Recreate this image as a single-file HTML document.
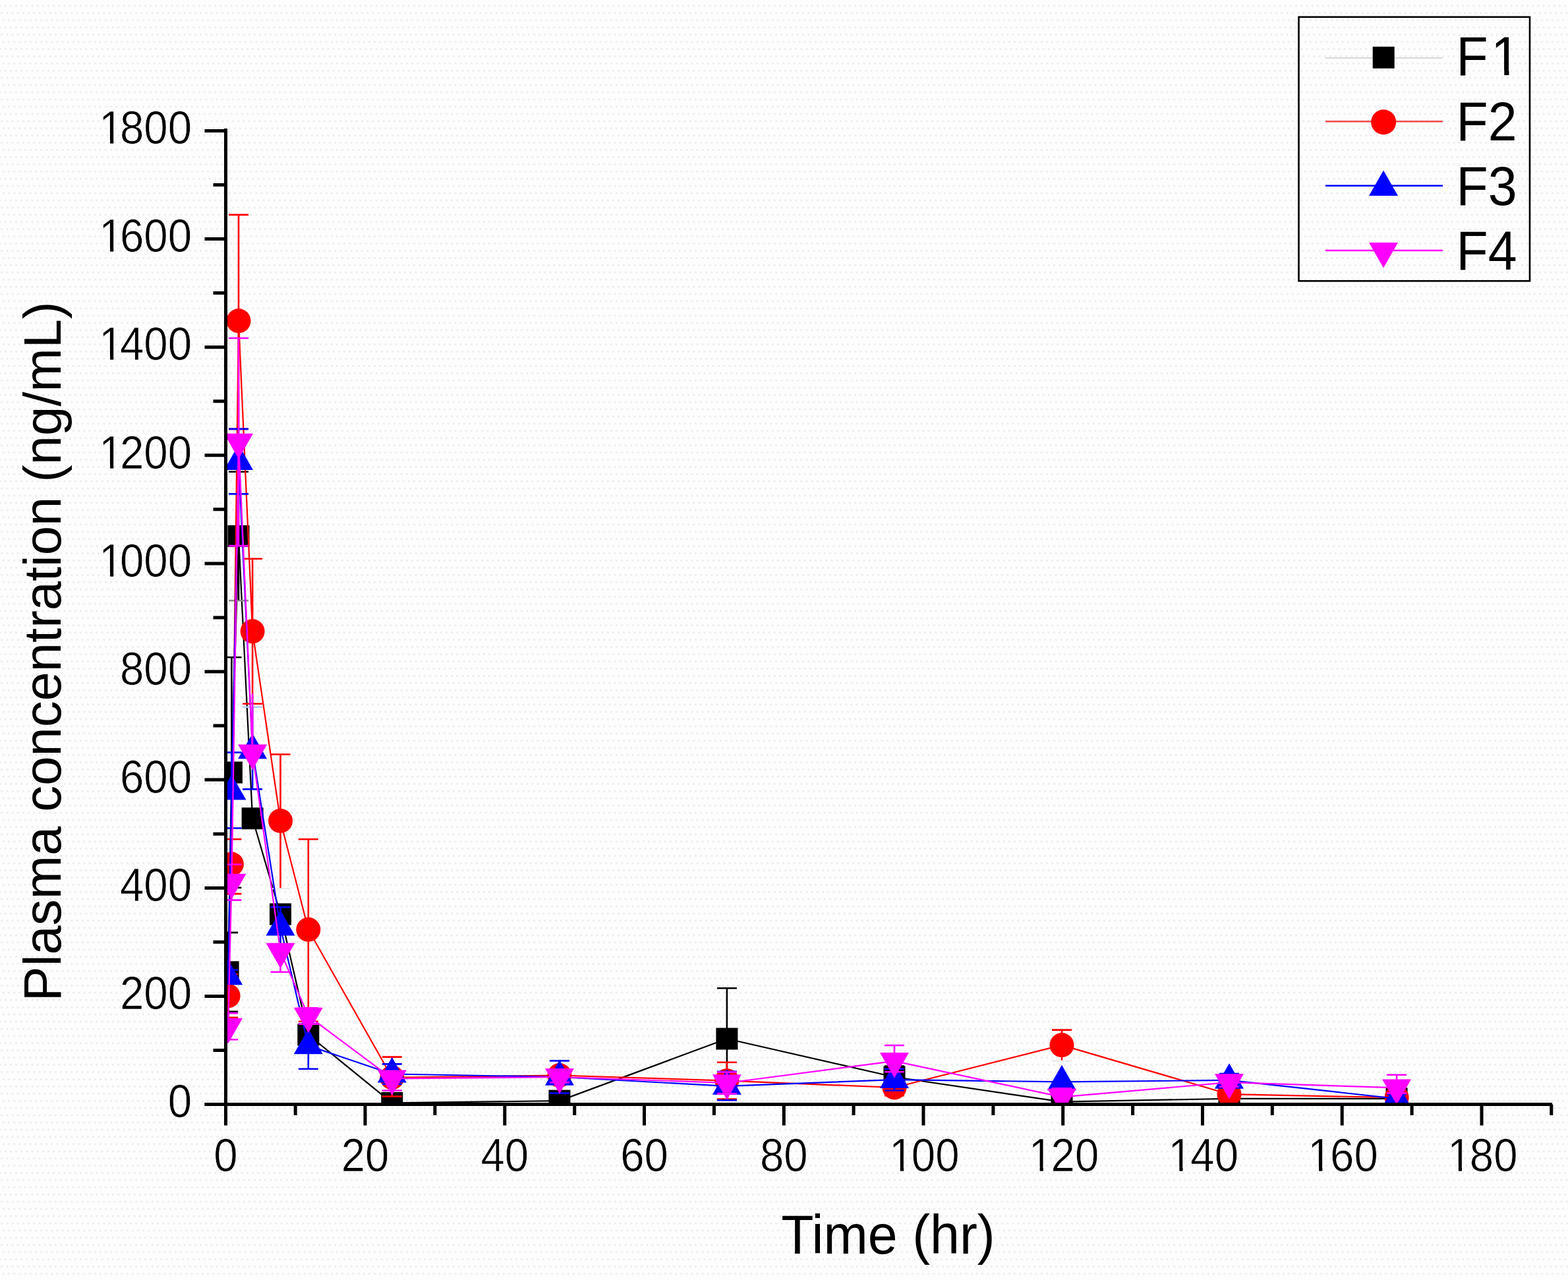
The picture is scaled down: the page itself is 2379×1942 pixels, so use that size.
<!DOCTYPE html><html><head><meta charset="utf-8"><title>Plasma concentration vs time</title>
<style>html,body{margin:0;padding:0;background:#fdfdfd;}body{width:2379px;height:1942px;overflow:hidden;}svg{display:block;}text{font-family:"Liberation Sans", Arial, sans-serif;fill:#000;}.tk{stroke:#fdfdfd;stroke-width:0.7px;}</style></head><body>
<svg width="2379" height="1942" viewBox="0 0 2379 1942">
<defs><pattern id="dots" x="6.9" y="7.5" width="8.16" height="32.79" patternUnits="userSpaceOnUse"><rect x="0" y="0" width="2.7" height="2.7" fill="#ebebeb"/><rect x="2.65" y="10.93" width="2.7" height="2.7" fill="#ebebeb"/><rect x="5.3" y="21.86" width="2.7" height="2.7" fill="#ebebeb"/><rect x="-2.86" y="21.86" width="2.7" height="2.7" fill="#ebebeb"/></pattern></defs>
<rect x="0" y="0" width="2379" height="1942" fill="#fdfdfd"/>
<rect x="0" y="0" width="2379" height="1942" fill="url(#dots)"/>
<clipPath id="pc"><rect x="340" y="100" width="2030" height="1576"/></clipPath>
<g clip-path="url(#pc)">
<path d="M346.1,1474.8 L351.4,1172.0 L362.0,813.4 L383.1,1241.7 L425.5,1387.0 L467.8,1570.0 L594.8,1673.4 L848.9,1670.1 L1102.9,1576.0 L1357.0,1634.0 L1611.0,1671.7 L1865.0,1666.8 L2119.1,1666.8" fill="none" stroke="#000000" stroke-width="2.2" stroke-linejoin="round"/>
<rect x="329.6" y="1458.3" width="33" height="33" fill="#000000"/>
<rect x="334.9" y="1155.5" width="33" height="33" fill="#000000"/>
<rect x="345.5" y="796.9" width="33" height="33" fill="#000000"/>
<rect x="366.6" y="1225.2" width="33" height="33" fill="#000000"/>
<rect x="409.0" y="1370.5" width="33" height="33" fill="#000000"/>
<rect x="451.3" y="1553.5" width="33" height="33" fill="#000000"/>
<rect x="578.3" y="1656.9" width="33" height="33" fill="#000000"/>
<rect x="832.4" y="1653.6" width="33" height="33" fill="#000000"/>
<rect x="1086.4" y="1559.5" width="33" height="33" fill="#000000"/>
<rect x="1340.5" y="1617.5" width="33" height="33" fill="#000000"/>
<rect x="1594.5" y="1655.2" width="33" height="33" fill="#000000"/>
<rect x="1848.5" y="1650.3" width="33" height="33" fill="#000000"/>
<rect x="2102.6" y="1650.3" width="33" height="33" fill="#000000"/>
<path d="M346.1,1474.8 V1414.9 M331.1,1414.9 H361.1 M346.1,1474.8 V1534.7 M331.1,1534.7 H361.1" stroke="#000000" stroke-width="2.6" fill="none"/>
<path d="M351.4,1172.0 V997.2 M336.4,997.2 H366.4 M351.4,1172.0 V1346.8 M336.4,1346.8 H366.4" stroke="#000000" stroke-width="2.6" fill="none"/>
<path d="M347.0,911.2 H377.0" stroke="#8a8a8a" stroke-width="2.6"/>
<path d="M362.0,813.4 V715.7 M347.0,715.7 H377.0 M362.0,813.4 V910.2" stroke="#000000" stroke-width="2.6" fill="none"/>
<path d="M383.1,1241.7 V1233.5 M368.1,1233.5 H398.1 M383.1,1241.7 V1249.9 M368.1,1249.9 H398.1" stroke="#000000" stroke-width="2.6" fill="none"/>
<path d="M425.5,1387.0 V1378.8 M410.5,1378.8 H440.5 M425.5,1387.0 V1395.2 M410.5,1395.2 H440.5" stroke="#000000" stroke-width="2.6" fill="none"/>
<path d="M467.8,1570.0 V1561.8 M452.8,1561.8 H482.8 M467.8,1570.0 V1578.2 M452.8,1578.2 H482.8" stroke="#000000" stroke-width="2.6" fill="none"/>
<path d="M594.8,1673.4 V1670.9 M579.8,1670.9 H609.8 M594.8,1673.4 V1675.8 M579.8,1675.8 H609.8" stroke="#000000" stroke-width="2.6" fill="none"/>
<path d="M848.9,1670.1 V1666.8 M833.9,1666.8 H863.9 M848.9,1670.1 V1673.4 M833.9,1673.4 H863.9" stroke="#000000" stroke-width="2.6" fill="none"/>
<path d="M1102.9,1576.0 V1499.3 M1087.9,1499.3 H1117.9 M1102.9,1576.0 V1652.8 M1087.9,1652.8 H1117.9" stroke="#000000" stroke-width="2.6" fill="none"/>
<path d="M1357.0,1634.0 V1617.6 M1342.0,1617.6 H1372.0 M1357.0,1634.0 V1650.4 M1342.0,1650.4 H1372.0" stroke="#000000" stroke-width="2.6" fill="none"/>
<path d="M1611.0,1671.7 V1667.6 M1596.0,1667.6 H1626.0 M1611.0,1671.7 V1675.8 M1596.0,1675.8 H1626.0" stroke="#000000" stroke-width="2.6" fill="none"/>
<path d="M1865.0,1666.8 V1663.5 M1850.0,1663.5 H1880.0 M1865.0,1666.8 V1670.1 M1850.0,1670.1 H1880.0" stroke="#000000" stroke-width="2.6" fill="none"/>
<path d="M2119.1,1666.8 V1663.5 M2104.1,1663.5 H2134.1 M2119.1,1666.8 V1670.1 M2104.1,1670.1 H2134.1" stroke="#000000" stroke-width="2.6" fill="none"/>
<path d="M346.1,1510.9 L351.4,1311.0 L362.0,486.8 L383.1,957.8 L425.5,1245.4 L467.8,1410.3 L594.8,1634.8 L848.9,1631.5 L1102.9,1639.7 L1357.0,1650.0 L1611.0,1585.6 L1865.0,1660.2 L2119.1,1665.2" fill="none" stroke="#ff0000" stroke-width="2.2" stroke-linejoin="round"/>
<circle cx="346.1" cy="1510.9" r="18.5" fill="#ff0000"/>
<circle cx="351.4" cy="1311.0" r="18.5" fill="#ff0000"/>
<circle cx="362.0" cy="486.8" r="18.5" fill="#ff0000"/>
<circle cx="383.1" cy="957.8" r="18.5" fill="#ff0000"/>
<circle cx="425.5" cy="1245.4" r="18.5" fill="#ff0000"/>
<circle cx="467.8" cy="1410.3" r="18.5" fill="#ff0000"/>
<circle cx="594.8" cy="1634.8" r="18.5" fill="#ff0000"/>
<circle cx="848.9" cy="1631.5" r="18.5" fill="#ff0000"/>
<circle cx="1102.9" cy="1639.7" r="18.5" fill="#ff0000"/>
<circle cx="1357.0" cy="1650.0" r="18.5" fill="#ff0000"/>
<circle cx="1611.0" cy="1585.6" r="18.5" fill="#ff0000"/>
<circle cx="1865.0" cy="1660.2" r="18.5" fill="#ff0000"/>
<circle cx="2119.1" cy="1665.2" r="18.5" fill="#ff0000"/>
<path d="M346.1,1510.9 V1478.1 M331.1,1478.1 H361.1 M346.1,1510.9 V1543.7 M331.1,1543.7 H361.1" stroke="#ff0000" stroke-width="2.6" fill="none"/>
<path d="M351.4,1311.0 V1273.2 M336.4,1273.2 H366.4 M351.4,1311.0 V1356.1 M336.4,1356.1 H366.4" stroke="#ff0000" stroke-width="2.6" fill="none"/>
<path d="M362.0,486.8 V325.9 M347.0,325.9 H377.0 M362.0,486.8 V650.9 M347.0,650.9 H377.0" stroke="#ff0000" stroke-width="2.6" fill="none"/>
<path d="M383.1,957.8 V847.8 M368.1,847.8 H398.1 M383.1,957.8 V1067.8 M368.1,1067.8 H398.1" stroke="#ff0000" stroke-width="2.6" fill="none"/>
<path d="M410.5,1348.2 H440.5" stroke="#ececec" stroke-width="2.6"/>
<path d="M425.5,1245.4 V1144.5 M410.5,1144.5 H440.5 M425.5,1245.4 V1347.2" stroke="#ff0000" stroke-width="2.6" fill="none"/>
<path d="M467.8,1410.3 V1273.2 M452.8,1273.2 H482.8 M467.8,1410.3 V1549.8 M452.8,1549.8 H482.8" stroke="#ff0000" stroke-width="2.6" fill="none"/>
<path d="M594.8,1634.8 V1603.6 M579.8,1603.6 H609.8 M594.8,1634.8 V1663.5 M579.8,1663.5 H609.8" stroke="#ff0000" stroke-width="2.6" fill="none"/>
<path d="M848.9,1631.5 V1623.3 M833.9,1623.3 H863.9 M848.9,1631.5 V1639.7 M833.9,1639.7 H863.9" stroke="#ff0000" stroke-width="2.6" fill="none"/>
<path d="M1102.9,1639.7 V1611.8 M1087.9,1611.8 H1117.9 M1102.9,1639.7 V1667.6 M1087.9,1667.6 H1117.9" stroke="#ff0000" stroke-width="2.6" fill="none"/>
<path d="M1357.0,1650.0 V1637.7 M1342.0,1637.7 H1372.0 M1357.0,1650.0 V1662.3 M1342.0,1662.3 H1372.0" stroke="#ff0000" stroke-width="2.6" fill="none"/>
<path d="M1596.0,1609.5 H1626.0" stroke="#ececec" stroke-width="2.6"/>
<path d="M1611.0,1585.6 V1562.6 M1596.0,1562.6 H1626.0 M1611.0,1585.6 V1608.5" stroke="#ff0000" stroke-width="2.6" fill="none"/>
<path d="M1865.0,1660.2 V1655.3 M1850.0,1655.3 H1880.0 M1865.0,1660.2 V1665.2 M1850.0,1665.2 H1880.0" stroke="#ff0000" stroke-width="2.6" fill="none"/>
<path d="M2119.1,1665.2 V1660.2 M2104.1,1660.2 H2134.1 M2119.1,1665.2 V1670.1 M2104.1,1670.1 H2134.1" stroke="#ff0000" stroke-width="2.6" fill="none"/>
<path d="M346.1,1481.3 L351.4,1200.7 L362.0,700.1 L383.1,1138.3 L425.5,1406.7 L467.8,1586.4 L594.8,1629.5 L848.9,1634.0 L1102.9,1647.9 L1357.0,1638.1 L1611.0,1641.4 L1865.0,1638.9 L2119.1,1666.8" fill="none" stroke="#0000ff" stroke-width="2.2" stroke-linejoin="round"/>
<path d="M346.1,1455.7 L368.1,1494.2 L324.1,1494.2 Z" fill="#0000ff"/>
<path d="M351.4,1175.0 L373.4,1213.5 L329.4,1213.5 Z" fill="#0000ff"/>
<path d="M362.0,674.5 L384.0,713.0 L340.0,713.0 Z" fill="#0000ff"/>
<path d="M383.1,1112.7 L405.1,1151.2 L361.1,1151.2 Z" fill="#0000ff"/>
<path d="M425.5,1381.0 L447.5,1419.5 L403.5,1419.5 Z" fill="#0000ff"/>
<path d="M467.8,1560.7 L489.8,1599.2 L445.8,1599.2 Z" fill="#0000ff"/>
<path d="M594.8,1603.9 L616.8,1642.4 L572.8,1642.4 Z" fill="#0000ff"/>
<path d="M848.9,1608.3 L870.9,1646.8 L826.9,1646.8 Z" fill="#0000ff"/>
<path d="M1102.9,1622.3 L1124.9,1660.8 L1080.9,1660.8 Z" fill="#0000ff"/>
<path d="M1357.0,1612.4 L1379.0,1650.9 L1335.0,1650.9 Z" fill="#0000ff"/>
<path d="M1611.0,1615.7 L1633.0,1654.2 L1589.0,1654.2 Z" fill="#0000ff"/>
<path d="M1865.0,1613.2 L1887.0,1651.7 L1843.0,1651.7 Z" fill="#0000ff"/>
<path d="M2119.1,1641.1 L2141.1,1679.6 L2097.1,1679.6 Z" fill="#0000ff"/>
<path d="M346.1,1481.3 V1471.5 M331.1,1471.5 H361.1 M346.1,1481.3 V1491.2 M331.1,1491.2 H361.1" stroke="#0000ff" stroke-width="2.6" fill="none"/>
<path d="M351.4,1200.7 V1141.6 M336.4,1141.6 H366.4 M351.4,1200.7 V1256.5 M336.4,1256.5 H366.4" stroke="#0000ff" stroke-width="2.6" fill="none"/>
<path d="M362.0,700.1 V650.9 M347.0,650.9 H377.0 M362.0,700.1 V749.4 M347.0,749.4 H377.0" stroke="#0000ff" stroke-width="2.6" fill="none"/>
<path d="M368.1,1072.7 H398.1" stroke="#b4cdf0" stroke-width="2.6"/>
<path d="M383.1,1138.3 V1072.7 M383.1,1138.3 V1197.4 M368.1,1197.4 H398.1" stroke="#0000ff" stroke-width="2.6" fill="none"/>
<path d="M425.5,1406.7 V1376.3 M410.5,1376.3 H440.5 M425.5,1406.7 V1435.4 M410.5,1435.4 H440.5" stroke="#0000ff" stroke-width="2.6" fill="none"/>
<path d="M467.8,1586.4 V1553.6 M452.8,1553.6 H482.8 M467.8,1586.4 V1621.7 M452.8,1621.7 H482.8" stroke="#0000ff" stroke-width="2.6" fill="none"/>
<path d="M594.8,1629.5 V1614.4 M579.8,1614.4 H609.8 M594.8,1629.5 V1644.7 M579.8,1644.7 H609.8" stroke="#0000ff" stroke-width="2.6" fill="none"/>
<path d="M848.9,1634.0 V1609.4 M833.9,1609.4 H863.9 M848.9,1634.0 V1658.6 M833.9,1658.6 H863.9" stroke="#0000ff" stroke-width="2.6" fill="none"/>
<path d="M1102.9,1647.9 V1625.8 M1087.9,1625.8 H1117.9 M1102.9,1647.9 V1669.3 M1087.9,1669.3 H1117.9" stroke="#0000ff" stroke-width="2.6" fill="none"/>
<path d="M1357.0,1638.1 V1621.7 M1342.0,1621.7 H1372.0 M1357.0,1638.1 V1654.5 M1342.0,1654.5 H1372.0" stroke="#0000ff" stroke-width="2.6" fill="none"/>
<path d="M1611.0,1641.4 V1652.0 M1596.0,1652.0 H1626.0" stroke="#0000ff" stroke-width="2.6" fill="none"/>
<path d="M1865.0,1638.9 V1629.0 M1850.0,1629.0 H1880.0 M1865.0,1638.9 V1648.7 M1850.0,1648.7 H1880.0" stroke="#0000ff" stroke-width="2.6" fill="none"/>
<path d="M2119.1,1666.8 V1660.2 M2104.1,1660.2 H2134.1 M2119.1,1666.8 V1673.4 M2104.1,1673.4 H2134.1" stroke="#0000ff" stroke-width="2.6" fill="none"/>
<path d="M346.1,1557.7 L351.4,1338.6 L362.0,670.6 L383.1,1142.4 L425.5,1443.6 L467.8,1541.5 L594.8,1636.4 L848.9,1634.0 L1102.9,1643.0 L1357.0,1609.8 L1611.0,1664.3 L1865.0,1642.2 L2119.1,1650.4" fill="none" stroke="#ff00ff" stroke-width="2.2" stroke-linejoin="round"/>
<path d="M324.1,1544.8 L368.1,1544.8 L346.1,1583.3 Z" fill="#ff00ff"/>
<path d="M329.4,1325.7 L373.4,1325.7 L351.4,1364.2 Z" fill="#ff00ff"/>
<path d="M340.0,657.8 L384.0,657.8 L362.0,696.3 Z" fill="#ff00ff"/>
<path d="M361.1,1129.6 L405.1,1129.6 L383.1,1168.1 Z" fill="#ff00ff"/>
<path d="M403.5,1430.8 L447.5,1430.8 L425.5,1469.3 Z" fill="#ff00ff"/>
<path d="M445.8,1528.7 L489.8,1528.7 L467.8,1567.2 Z" fill="#ff00ff"/>
<path d="M572.8,1623.6 L616.8,1623.6 L594.8,1662.1 Z" fill="#ff00ff"/>
<path d="M826.9,1621.1 L870.9,1621.1 L848.9,1659.6 Z" fill="#ff00ff"/>
<path d="M1080.9,1630.2 L1124.9,1630.2 L1102.9,1668.7 Z" fill="#ff00ff"/>
<path d="M1335.0,1596.9 L1379.0,1596.9 L1357.0,1635.4 Z" fill="#ff00ff"/>
<path d="M1589.0,1651.5 L1633.0,1651.5 L1611.0,1690.0 Z" fill="#ff00ff"/>
<path d="M1843.0,1629.3 L1887.0,1629.3 L1865.0,1667.8 Z" fill="#ff00ff"/>
<path d="M2097.1,1637.5 L2141.1,1637.5 L2119.1,1676.0 Z" fill="#ff00ff"/>
<path d="M346.1,1557.7 V1537.1 M331.1,1537.1 H361.1 M346.1,1557.7 V1577.3 M331.1,1577.3 H361.1" stroke="#ff00ff" stroke-width="2.6" fill="none"/>
<path d="M351.4,1338.6 V1311.5 M336.4,1311.5 H366.4 M351.4,1338.6 V1365.6 M336.4,1365.6 H366.4" stroke="#ff00ff" stroke-width="2.6" fill="none"/>
<path d="M362.0,670.6 V513.0 M347.0,513.0 H377.0 M362.0,670.6 V828.1 M347.0,828.1 H377.0" stroke="#ff00ff" stroke-width="2.6" fill="none"/>
<path d="M368.1,1052.2 H398.1" stroke="none" stroke-width="2.6"/>
<path d="M383.1,1142.4 V1052.2" stroke="#ff00ff" stroke-width="2.6" fill="none"/>
<path d="M425.5,1443.6 V1474.8 M410.5,1474.8 H440.5" stroke="#ff00ff" stroke-width="2.6" fill="none"/>
<path d="M467.8,1541.5 V1529.2 M452.8,1529.2 H482.8 M467.8,1541.5 V1553.8 M452.8,1553.8 H482.8" stroke="#ff00ff" stroke-width="2.6" fill="none"/>
<path d="M594.8,1636.4 V1628.2 M579.8,1628.2 H609.8 M594.8,1636.4 V1654.5 M579.8,1654.5 H609.8" stroke="#ff00ff" stroke-width="2.6" fill="none"/>
<path d="M848.9,1634.0 V1625.8 M833.9,1625.8 H863.9 M848.9,1634.0 V1642.2 M833.9,1642.2 H863.9" stroke="#ff00ff" stroke-width="2.6" fill="none"/>
<path d="M1102.9,1643.0 V1626.6 M1087.9,1626.6 H1117.9 M1102.9,1643.0 V1659.4 M1087.9,1659.4 H1117.9" stroke="#ff00ff" stroke-width="2.6" fill="none"/>
<path d="M1357.0,1609.8 V1586.0 M1342.0,1586.0 H1372.0 M1357.0,1609.8 V1626.2 M1342.0,1626.2 H1372.0" stroke="#ff00ff" stroke-width="2.6" fill="none"/>
<path d="M1611.0,1664.3 V1651.2 M1596.0,1651.2 H1626.0 M1611.0,1664.3 V1677.5 M1596.0,1677.5 H1626.0" stroke="#ff00ff" stroke-width="2.6" fill="none"/>
<path d="M1865.0,1642.2 V1635.6 M1850.0,1635.6 H1880.0 M1865.0,1642.2 V1648.7 M1850.0,1648.7 H1880.0" stroke="#ff00ff" stroke-width="2.6" fill="none"/>
<path d="M2119.1,1650.4 V1630.7 M2104.1,1630.7 H2134.1 M2119.1,1650.4 V1658.6 M2104.1,1658.6 H2134.1" stroke="#ff00ff" stroke-width="2.6" fill="none"/>
</g>
<path d="M342.5,195.0 V1707.5" stroke="#000" stroke-width="5" fill="none"/>
<path d="M310.5,1675.5 H2355" stroke="#000" stroke-width="5" fill="none"/>
<path d="M310.5,1675.5 H342.5 M323.5,1593.4 H342.5 M310.5,1511.4 H342.5 M323.5,1429.3 H342.5 M310.5,1347.3 H342.5 M323.5,1265.2 H342.5 M310.5,1183.1 H342.5 M323.5,1101.1 H342.5 M310.5,1019.0 H342.5 M323.5,937.0 H342.5 M310.5,854.9 H342.5 M323.5,772.8 H342.5 M310.5,690.8 H342.5 M323.5,608.7 H342.5 M310.5,526.7 H342.5 M323.5,444.6 H342.5 M310.5,362.5 H342.5 M323.5,280.5 H342.5 M310.5,198.4 H342.5 M448.2,1675.5 V1692.0 M554.0,1675.5 V1707.5 M659.9,1675.5 V1692.0 M765.8,1675.5 V1707.5 M871.7,1675.5 V1692.0 M977.5,1675.5 V1707.5 M1083.4,1675.5 V1692.0 M1189.3,1675.5 V1707.5 M1295.1,1675.5 V1692.0 M1401.0,1675.5 V1707.5 M1506.9,1675.5 V1692.0 M1612.7,1675.5 V1707.5 M1718.6,1675.5 V1692.0 M1824.5,1675.5 V1707.5 M1930.3,1675.5 V1692.0 M2036.2,1675.5 V1707.5 M2142.1,1675.5 V1692.0 M2248.0,1675.5 V1707.5 M2353.8,1675.5 V1692.0" stroke="#000" stroke-width="5" fill="none"/>
<text class="tk" transform="translate(291,1695.2) scale(0.94,1)" font-size="69.5" text-anchor="end">0</text>
<text class="tk" transform="translate(291,1531.1) scale(0.94,1)" font-size="69.5" text-anchor="end">200</text>
<text class="tk" transform="translate(291,1367.0) scale(0.94,1)" font-size="69.5" text-anchor="end">400</text>
<text class="tk" transform="translate(291,1202.8) scale(0.94,1)" font-size="69.5" text-anchor="end">600</text>
<text class="tk" transform="translate(291,1038.7) scale(0.94,1)" font-size="69.5" text-anchor="end">800</text>
<text class="tk" transform="translate(291,874.6) scale(0.94,1)" font-size="69.5" text-anchor="end">1<tspan dx="-4.79">000</tspan></text>
<text class="tk" transform="translate(291,710.5) scale(0.94,1)" font-size="69.5" text-anchor="end">1<tspan dx="-4.79">200</tspan></text>
<text class="tk" transform="translate(291,546.4) scale(0.94,1)" font-size="69.5" text-anchor="end">1<tspan dx="-4.79">400</tspan></text>
<text class="tk" transform="translate(291,382.2) scale(0.94,1)" font-size="69.5" text-anchor="end">1<tspan dx="-4.79">600</tspan></text>
<text class="tk" transform="translate(291,218.1) scale(0.94,1)" font-size="69.5" text-anchor="end">1<tspan dx="-4.79">800</tspan></text>
<text class="tk" transform="translate(342.30,1776.5) scale(0.94,1)" font-size="69.5" text-anchor="middle">0</text>
<text class="tk" transform="translate(554.04,1776.5) scale(0.94,1)" font-size="69.5" text-anchor="middle">20</text>
<text class="tk" transform="translate(765.78,1776.5) scale(0.94,1)" font-size="69.5" text-anchor="middle">40</text>
<text class="tk" transform="translate(977.52,1776.5) scale(0.94,1)" font-size="69.5" text-anchor="middle">60</text>
<text class="tk" transform="translate(1189.26,1776.5) scale(0.94,1)" font-size="69.5" text-anchor="middle">80</text>
<text class="tk" transform="translate(1402.25,1776.5) scale(0.94,1)" font-size="69.5" text-anchor="middle">1<tspan dx="-2.66">00</tspan></text>
<text class="tk" transform="translate(1613.99,1776.5) scale(0.94,1)" font-size="69.5" text-anchor="middle">1<tspan dx="-2.66">20</tspan></text>
<text class="tk" transform="translate(1825.73,1776.5) scale(0.94,1)" font-size="69.5" text-anchor="middle">1<tspan dx="-2.66">40</tspan></text>
<text class="tk" transform="translate(2037.47,1776.5) scale(0.94,1)" font-size="69.5" text-anchor="middle">1<tspan dx="-2.66">60</tspan></text>
<text class="tk" transform="translate(2249.21,1776.5) scale(0.94,1)" font-size="69.5" text-anchor="middle">1<tspan dx="-2.66">80</tspan></text>
<text transform="translate(1347.5,1902) scale(0.973,1)" font-size="83" text-anchor="middle">Time (hr)</text>
<text transform="translate(92,988.3) rotate(-90) scale(0.995,1)" x="0" y="0" font-size="80" text-anchor="middle">Plasma concentration (ng/mL)</text>
<rect x="1970.5" y="25.8" width="350.5" height="400.5" fill="none" stroke="#000" stroke-width="2.6"/>
<path d="M2011,88 H2189" stroke="#d8d8d8" stroke-width="2"/>
<rect x="2082.7" y="70.8" width="33" height="33" fill="#000"/>
<text transform="translate(2209.6,114) scale(0.95,1)" font-size="83">F<tspan dx="4.84">1</tspan></text>
<path d="M2011,184.3 H2189" stroke="#f04848" stroke-width="2.4"/>
<circle cx="2099.2" cy="185.3" r="19.0" fill="#ff0000"/>
<text transform="translate(2209.6,212.5) scale(0.95,1)" font-size="83">F2</text>
<path d="M2011,281.8 H2189" stroke="#0000ff" stroke-width="2.6"/>
<path d="M2099.0,258.5 L2121.0,297.0 L2077.0,297.0 Z" fill="#0000ff"/>
<text transform="translate(2209.6,310.5) scale(0.95,1)" font-size="83">F3</text>
<path d="M2011,380 H2189" stroke="#ff00ff" stroke-width="2.6"/>
<path d="M2077.0,368.0 L2121.0,368.0 L2099.0,406.5 Z" fill="#ff00ff"/>
<text transform="translate(2209.6,408.5) scale(0.95,1)" font-size="83">F4</text>
<path d="M153.67,868.40 H167.07 V875.20 H153.67 Z M172.27,868.40 H183.67 V875.20 H172.27 Z M153.67,704.30 H167.07 V711.10 H153.67 Z M172.27,704.30 H183.67 V711.10 H172.27 Z M153.67,540.20 H167.07 V547.00 H153.67 Z M172.27,540.20 H183.67 V547.00 H172.27 Z M153.67,376.00 H167.07 V382.80 H153.67 Z M172.27,376.00 H183.67 V382.80 H172.27 Z M153.67,211.90 H167.07 V218.70 H153.67 Z M172.27,211.90 H183.67 V218.70 H172.27 Z M1352.50,1770.30 H1365.90 V1777.10 H1352.50 Z M1371.10,1770.30 H1382.50 V1777.10 H1371.10 Z M1564.24,1770.30 H1577.64 V1777.10 H1564.24 Z M1582.84,1770.30 H1594.24 V1777.10 H1582.84 Z M1775.98,1770.30 H1789.38 V1777.10 H1775.98 Z M1794.58,1770.30 H1805.98 V1777.10 H1794.58 Z M1987.72,1770.30 H2001.12 V1777.10 H1987.72 Z M2006.32,1770.30 H2017.72 V1777.10 H2006.32 Z M2199.46,1770.30 H2212.86 V1777.10 H2199.46 Z M2218.06,1770.30 H2229.46 V1777.10 H2218.06 Z M2266.87,106.80 H2282.27 V114.60 H2266.87 Z M2289.47,106.80 H2302.87 V114.60 H2289.47 Z" fill="#fdfdfd"/><path d="M153.67,868.40 H167.07 V875.20 H153.67 Z M172.27,868.40 H183.67 V875.20 H172.27 Z M153.67,704.30 H167.07 V711.10 H153.67 Z M172.27,704.30 H183.67 V711.10 H172.27 Z M153.67,540.20 H167.07 V547.00 H153.67 Z M172.27,540.20 H183.67 V547.00 H172.27 Z M153.67,376.00 H167.07 V382.80 H153.67 Z M172.27,376.00 H183.67 V382.80 H172.27 Z M153.67,211.90 H167.07 V218.70 H153.67 Z M172.27,211.90 H183.67 V218.70 H172.27 Z M1352.50,1770.30 H1365.90 V1777.10 H1352.50 Z M1371.10,1770.30 H1382.50 V1777.10 H1371.10 Z M1564.24,1770.30 H1577.64 V1777.10 H1564.24 Z M1582.84,1770.30 H1594.24 V1777.10 H1582.84 Z M1775.98,1770.30 H1789.38 V1777.10 H1775.98 Z M1794.58,1770.30 H1805.98 V1777.10 H1794.58 Z M1987.72,1770.30 H2001.12 V1777.10 H1987.72 Z M2006.32,1770.30 H2017.72 V1777.10 H2006.32 Z M2199.46,1770.30 H2212.86 V1777.10 H2199.46 Z M2218.06,1770.30 H2229.46 V1777.10 H2218.06 Z M2266.87,106.80 H2282.27 V114.60 H2266.87 Z M2289.47,106.80 H2302.87 V114.60 H2289.47 Z" fill="url(#dots)"/>
</svg></body></html>
